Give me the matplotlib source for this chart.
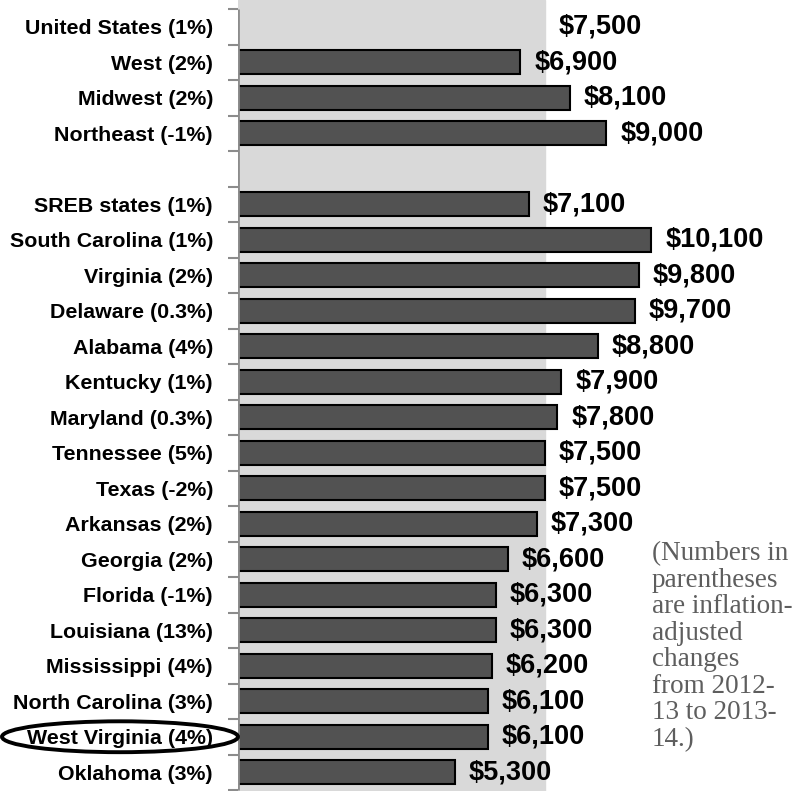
import matplotlib
matplotlib.use("Agg")
import matplotlib.pyplot as plt
from matplotlib.patches import Ellipse
import matplotlib.transforms as mtransforms

# rows top to bottom; None = empty spacer row
labels = ["United States (1%)", "West (2%)", "Midwest (2%)", "Northeast (-1%)", "",
          "SREB states (1%)", "South Carolina (1%)", "Virginia (2%)", "Delaware (0.3%)",
          "Alabama (4%)", "Kentucky (1%)", "Maryland (0.3%)", "Tennessee (5%)",
          "Texas (-2%)", "Arkansas (2%)", "Georgia (2%)", "Florida (-1%)",
          "Louisiana (13%)", "Mississippi (4%)", "North Carolina (3%)",
          "West Virginia (4%)", "Oklahoma (3%)"]
values = [7500, 6900, 8100, 9000, None,
          7100, 10100, 9800, 9700,
          8800, 7900, 7800, 7500,
          7500, 7300, 6600, 6300,
          6300, 6200, 6100,
          6100, 5300]
us_value = values[0]
highlight = "West Virginia (4%)"
note = "(Numbers in\nparentheses\nare inflation-\nadjusted\nchanges\nfrom 2012-\n13 to 2013-\n14.)"

W, H = 793, 791
fig = plt.figure(figsize=(W / 100, H / 100), dpi=100)
ax = fig.add_axes([238 / W, 0, (W - 238) / W, 1])

n = len(labels)
row_px = 35.5
ax.set_ylim(n - 0.5 + 1 / row_px, -0.5 - 9 / row_px)
ax.set_xlim(0, (W - 238) / 0.04093)

# U.S. average drawn as background band
ax.axvspan(0, us_value, color="#d9d9d9", zorder=0)

for i, v in enumerate(values):
    if v is None:
        continue
    if i > 0:
        ax.barh(i, v, height=0.68, color="#525252", edgecolor="black", linewidth=1.5, zorder=2)
    ax.annotate(f"${v:,}", (v, i), xytext=(10, 0), textcoords="offset points",
                va="center", ha="left", fontsize=19.5, fontweight="bold",
                family=["Liberation Sans", "DejaVu Sans"], zorder=3)

for s in ax.spines.values():
    s.set_visible(False)
ax.vlines(0, -0.5, n - 0.5, color="#8c8c8c", lw=2, zorder=4)

ax.set_yticks(range(n))
ax.set_yticklabels(labels, fontsize=15.4, fontweight="bold",
                   family=["Liberation Sans", "DejaVu Sans"])
ax.tick_params(axis="y", which="major", length=0, pad=18)
ax.set_yticks([i - 0.5 for i in range(n + 1)], minor=True)
ax.tick_params(axis="y", which="minor", length=7, width=1.5, color="#8c8c8c")
ax.set_xticks([])
ax.patch.set_visible(False)

fig.text(652 / W, 1 - 541 / H, note, ha="left", va="top", fontsize=19.5,
         color="#5e5e5e", family=["Liberation Serif", "DejaVu Serif"], linespacing=1.08)

# ellipse around highlighted label
hi = labels.index(highlight)
trans = mtransforms.blended_transform_factory(fig.transFigure, ax.transData)
fig.add_artist(Ellipse((120 / W, hi), 236 / W, 0.87, transform=trans,
                       fill=False, edgecolor="black", lw=2.8))

fig.savefig("out.png", dpi=100)
